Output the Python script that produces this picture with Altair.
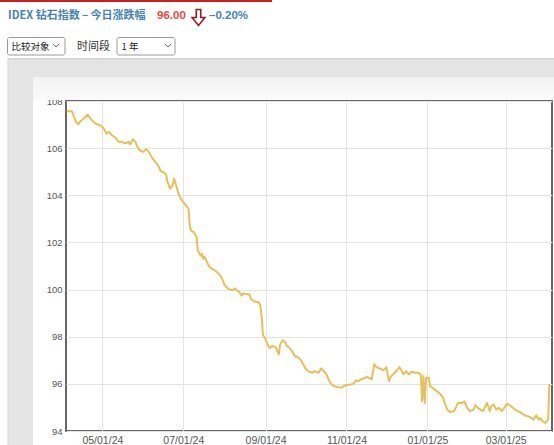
import altair as alt
import pandas as pd

# IDEX diamond index, one-year daily history
dates = [
    "2024-04-04", "2024-04-08", "2024-04-11", "2024-04-13", "2024-04-14", "2024-04-17",
    "2024-04-20", "2024-04-22", "2024-04-24", "2024-04-27", "2024-04-29",
    "2024-05-02", "2024-05-04", "2024-05-06", "2024-05-08", "2024-05-11", "2024-05-13",
    "2024-05-16", "2024-05-18", "2024-05-21", "2024-05-22", "2024-05-24", "2024-05-26",
    "2024-05-27", "2024-05-29",
    "2024-06-01", "2024-06-03", "2024-06-05", "2024-06-07", "2024-06-10", "2024-06-12",
    "2024-06-14", "2024-06-16", "2024-06-18", "2024-06-19", "2024-06-21", "2024-06-23",
    "2024-06-24", "2024-06-25", "2024-06-27", "2024-06-29",
    "2024-07-01", "2024-07-04", "2024-07-05", "2024-07-06", "2024-07-07", "2024-07-09",
    "2024-07-11", "2024-07-12", "2024-07-14", "2024-07-15", "2024-07-16", "2024-07-17",
    "2024-07-19", "2024-07-21", "2024-07-24", "2024-07-26", "2024-07-29", "2024-07-31",
    "2024-08-01", "2024-08-04", "2024-08-07", "2024-08-09", "2024-08-10", "2024-08-12",
    "2024-08-14", "2024-08-15", "2024-08-18", "2024-08-20", "2024-08-21", "2024-08-24",
    "2024-08-27", "2024-08-28", "2024-08-29", "2024-08-30",
    "2024-09-01", "2024-09-02", "2024-09-04", "2024-09-06", "2024-09-09", "2024-09-11",
    "2024-09-12", "2024-09-14", "2024-09-16", "2024-09-17", "2024-09-19", "2024-09-21",
    "2024-09-23", "2024-09-26", "2024-09-28",
    "2024-10-01", "2024-10-03", "2024-10-06", "2024-10-08", "2024-10-11", "2024-10-13",
    "2024-10-15", "2024-10-17", "2024-10-19", "2024-10-21", "2024-10-23", "2024-10-26",
    "2024-10-28", "2024-10-30",
    "2024-11-01", "2024-11-04", "2024-11-06", "2024-11-08", "2024-11-10", "2024-11-12",
    "2024-11-15", "2024-11-17", "2024-11-20", "2024-11-22", "2024-11-23", "2024-11-25",
    "2024-11-26", "2024-11-29",
    "2024-12-01", "2024-12-03", "2024-12-04", "2024-12-06", "2024-12-09", "2024-12-11",
    "2024-12-13", "2024-12-14", "2024-12-16", "2024-12-18", "2024-12-20", "2024-12-23",
    "2024-12-25", "2024-12-27", "2024-12-28", "2024-12-29", "2024-12-30", "2024-12-31",
    "2025-01-02", "2025-01-03", "2025-01-05", "2025-01-08", "2025-01-10", "2025-01-13",
    "2025-01-14", "2025-01-16", "2025-01-18", "2025-01-21", "2025-01-23", "2025-01-24",
    "2025-01-27", "2025-01-29", "2025-01-31",
    "2025-02-02", "2025-02-05", "2025-02-06", "2025-02-08", "2025-02-10", "2025-02-12",
    "2025-02-13", "2025-02-15", "2025-02-17", "2025-02-18", "2025-02-20", "2025-02-22",
    "2025-02-24", "2025-02-26", "2025-02-28",
    "2025-03-02", "2025-03-04", "2025-03-06", "2025-03-08", "2025-03-10", "2025-03-13",
    "2025-03-15", "2025-03-18", "2025-03-21", "2025-03-22", "2025-03-24", "2025-03-26",
    "2025-03-27", "2025-03-29", "2025-03-31",
    "2025-04-02", "2025-04-03",
]

index_values = [
    107.57, 107.57, 107.12, 107.01, 107.12, 107.26, 107.43, 107.26, 107.12, 107.01, 106.98,
    106.84, 106.62, 106.69, 106.55, 106.44, 106.27, 106.27, 106.20, 106.27, 106.16, 106.37,
    106.27, 106.10, 105.91,
    105.84, 105.96, 105.84, 105.63, 105.41, 105.27, 105.02, 104.99, 104.88, 104.59, 104.28,
    104.42, 104.71, 104.54, 104.14, 103.86,
    103.71, 103.50, 103.42, 102.65, 102.50, 102.43, 102.22, 101.65, 101.44, 101.51, 101.30,
    101.40, 101.15, 100.94, 100.84, 100.76, 100.59, 100.37,
    100.20, 100.02, 99.98, 100.05, 99.98, 99.91, 99.74, 99.83, 99.81, 99.78, 99.60, 99.49,
    99.45, 99.35, 98.88, 98.10,
    97.89, 97.75, 97.51, 97.61, 97.53, 97.25, 97.68, 97.85, 97.75, 97.61, 97.53, 97.39,
    97.18, 97.11, 96.97,
    96.66, 96.54, 96.47, 96.54, 96.47, 96.66, 96.54, 96.40, 96.12, 95.95, 95.90, 95.86,
    95.83, 95.90,
    95.95, 95.97, 96.00, 96.14, 96.12, 96.19, 96.26, 96.29, 96.19, 96.83, 96.75, 96.66,
    96.66, 96.57,
    96.71, 96.12, 96.26, 96.40, 96.57, 96.71, 96.51, 96.40, 96.54, 96.40, 96.51, 96.47,
    96.47, 96.40, 95.26, 96.33, 95.19, 96.26,
    96.26, 95.90, 95.83, 95.69, 95.62, 95.40, 95.19, 94.91, 94.81, 94.84, 95.05, 95.19,
    95.19, 95.26, 94.98,
    94.84, 94.91, 95.09, 94.98, 94.91, 94.84, 94.98, 95.19, 94.84, 95.05, 95.12, 94.91,
    94.98, 94.84, 94.98,
    95.15, 95.09, 95.01, 94.91, 94.84, 94.76, 94.67, 94.62, 94.53, 94.48, 94.67, 94.48,
    94.55, 94.41, 94.34,
    94.48, 96.00,
]

y_ticks = [94, 96, 98, 100, 102, 104, 106, 108]
x_tick_dates = [(2024, 5), (2024, 7), (2024, 9), (2024, 11), (2025, 1), (2025, 3)]

title_text = "IDEX 钻石指数 – 今日涨跌幅"
last_value_text = "96.00"
change_text = "–0.20%"
compare_label = "比较对象"
period_label = "时间段"
period_value = "1 年"

series = pd.DataFrame({"date": dates, "value": index_values})
one_row = pd.DataFrame({"k": [0]})

# page position of the plot area's top-left corner
OX, OY = 66, 101
CJK = "Noto Sans CJK SC"
LATIN = "Liberation Sans"


def page_rect(x0, y0, x1, y1, **style):
    return alt.Chart(one_row).mark_rect(**style).encode(
        x=alt.value(x0 - OX), x2=alt.value(x1 - OX),
        y=alt.value(y0 - OY), y2=alt.value(y1 - OY),
    )


def page_text(x, y, text, **style):
    return alt.Chart(one_row).mark_text(align="left", baseline="middle", **style).encode(
        x=alt.value(x - OX), y=alt.value(y - OY), text=alt.value(text),
    )


def page_symbol(x, y, shape, size, **style):
    return alt.Chart(one_row).mark_point(shape=shape, size=size, **style).encode(
        x=alt.value(x - OX), y=alt.value(y - OY),
    )


# frame around the chart: grey panel, card header shading, top red rule
panel_top = page_rect(8, 59, 560, 77, color="#e4e4e4")
panel_left = page_rect(8, 77, 33, 445, color="#e4e4e4")
panel_edge_top = page_rect(8, 58, 560, 59.5, color="#d2d2d2")
panel_edge_left = page_rect(7.5, 58, 8.5, 445, color="#d6d6d6")
card_head = page_rect(
    33, 77, 560, 100,
    fill=alt.LinearGradient(
        gradient="linear",
        stops=[alt.GradientStop(color="#f2f2f2", offset=0),
               alt.GradientStop(color="#fbfbfb", offset=1)],
        x1=0, x2=0, y1=0, y2=1,
    ),
)
red_rule = page_rect(0, 0, 272, 2, color="#cc1f1f")

# header line
title = page_text(8, 15.5, title_text, font=CJK, fontSize=11, fontWeight="bold", color="#4583b5")
last_value = page_text(157, 15.5, last_value_text, font=LATIN, fontSize=11.5, fontWeight="bold", color="#e8453c")
arrow = page_symbol(
    198.5, 17.5,
    "M -0.28 -1 L 0.28 -1 L 0.28 0 L 0.8 0 L 0 1 L -0.8 0 L -0.28 0 Z",
    256, filled=False, stroke="#8e2121", strokeWidth=1.6, opacity=1,
)
change = page_text(209, 15.5, change_text, font=LATIN, fontSize=11.5, fontWeight="bold", color="#4583b5")

# selectors
select_a = page_rect(7.5, 37.5, 65, 55, fill="#ffffff", stroke="#9a9a9a", strokeWidth=1, cornerRadius=2)
select_a_text = page_text(11.5, 46.5, compare_label, font=CJK, fontSize=9.5, color="#222222")
select_a_arrow = page_symbol(56, 45.5, "M -1 -0.5 L 0 0.5 L 1 -0.5", 36,
                             filled=False, stroke="#666666", strokeWidth=1, opacity=1)
period_text = page_text(77, 46.5, period_label, font=CJK, fontSize=11, color="#333333")
select_b = page_rect(117, 37.5, 175, 55, fill="#ffffff", stroke="#9a9a9a", strokeWidth=1, cornerRadius=2)
select_b_text = page_text(121.5, 46.5, period_value, font=CJK, fontSize=9.5, color="#222222")
select_b_arrow = page_symbol(168, 45.5, "M -1 -0.5 L 0 0.5 L 1 -0.5", 36,
                             filled=False, stroke="#666666", strokeWidth=1, opacity=1)

x_values = [alt.DateTime(year=y, month=m, date=1, utc=True) for y, m in x_tick_dates]
x_domain = [
    alt.DateTime(year=2024, month=4, date=3, hours=14, utc=True),
    alt.DateTime(year=2025, month=4, date=4, hours=22, utc=True),
]

line = alt.Chart(series).mark_line(color="#e7c158", strokeWidth=2, strokeJoin="round").encode(
    x=alt.X(
        "date:T",
        scale=alt.Scale(type="utc", domain=x_domain),
        axis=alt.Axis(
            values=x_values, format="%m/%d/%y", title=None, domain=False, ticks=False,
            grid=True, gridColor="#e4e4e4", gridWidth=1, labelColor="#555555",
            labelFont=LATIN, labelFontSize=10.5, labelPadding=4,
        ),
    ),
    y=alt.Y(
        "value:Q",
        scale=alt.Scale(domain=[94, 108], nice=False, zero=False),
        axis=alt.Axis(
            values=y_ticks, title=None, domain=False, ticks=False,
            grid=True, gridColor="#e4e4e4", gridWidth=1, labelColor="#555555",
            labelFont=LATIN, labelFontSize=9.5, labelPadding=4,
        ),
    ),
)

chart = alt.layer(
    panel_top, panel_left, panel_edge_top, panel_edge_left, card_head, red_rule,
    line,
    title, last_value, arrow, change,
    select_a, select_a_text, select_a_arrow, period_text,
    select_b, select_b_text, select_b_arrow,
).properties(
    width=486,
    height=330,
    autosize=alt.AutoSizeParams(type="none"),
    padding={"left": OX, "top": OY, "right": 2, "bottom": 14},
    background="#ffffff",
).configure_view(
    stroke="#666666",
    strokeWidth=2,
    fill="#ffffff",
)

chart.save("out.html", embed_options={"renderer": "svg", "actions": False})
